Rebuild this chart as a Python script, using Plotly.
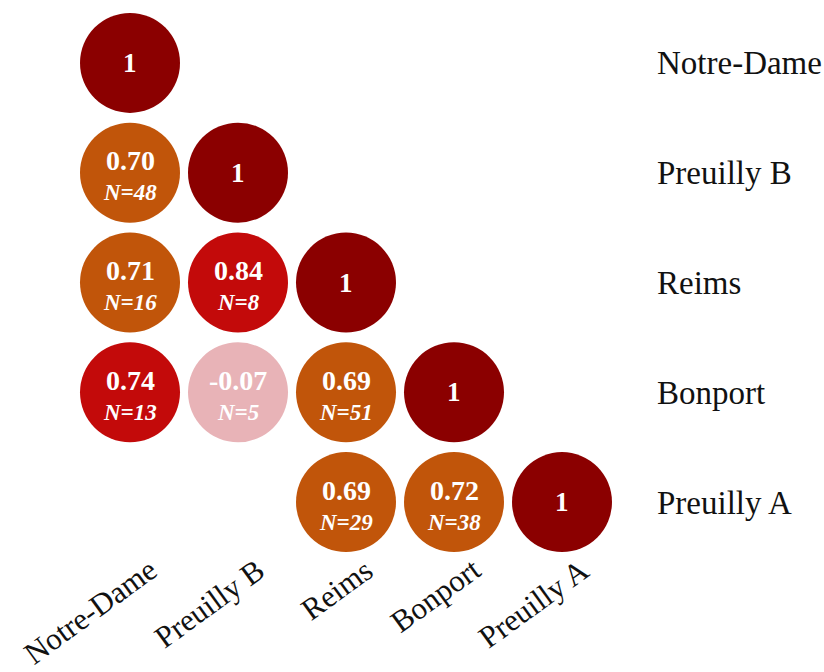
import plotly.graph_objects as go

# Sites compared (same order on both axes)
sites = ["Notre-Dame", "Preuilly B", "Reims", "Bonport", "Preuilly A"]

# Lower-triangle correlations: (row index, column index)
pair_rows = [0, 1, 1, 2, 2, 2, 3, 3, 3, 3, 4, 4, 4]
pair_cols = [0, 0, 1, 0, 1, 2, 0, 1, 2, 3, 2, 3, 4]
r_values = [1, 0.70, 1, 0.71, 0.84, 1, 0.74, -0.07, 0.69, 1, 0.69, 0.72, 1]
n_values = [None, 48, None, 16, 8, None, 13, 5, 51, None, 29, 38, None]


def circle_colour(r):
    if r >= 1:
        return "#8B0000"
    if r >= 0.73:
        return "#C30A0A"
    if r >= 0.5:
        return "#C1550A"
    return "#E8B3B7"


colours = [circle_colour(r) for r in r_values]

fig = go.Figure()
fig.add_trace(go.Scatter(
    x=pair_cols, y=pair_rows, mode="markers",
    marker=dict(size=100, color=colours, line=dict(width=0)),
    hoverinfo="skip", showlegend=False,
))

serif = "Liberation Serif, Times New Roman, serif"
annotations = []
for x, y, r, n in zip(pair_cols, pair_rows, r_values, n_values):
    if n is None:
        annotations.append(dict(
            x=x, y=y, xref="x", yref="y", text="<b>1</b>", showarrow=False,
            font=dict(family=serif, size=27, color="white"),
        ))
    else:
        annotations.append(dict(
            x=x, y=y, xref="x", yref="y", text=f"<b>{r:.2f}</b>",
            showarrow=False, yshift=12,
            font=dict(family=serif, size=28, color="white"),
        ))
        annotations.append(dict(
            x=x, y=y, xref="x", yref="y", text=f"<b><i>N={n}</i></b>",
            showarrow=False, yshift=-20,
            font=dict(family=serif, size=23, color="white"),
        ))

# Slanted column labels under the bottom row
for i, name in enumerate(sites):
    annotations.append(dict(
        x=i, y=0, xref="x", yref="paper", text=name, showarrow=False,
        textangle=-36, xanchor="right", yanchor="top", xshift=36, yshift=8,
        font=dict(family=serif, size=31, color="#111"),
    ))

fig.update_layout(
    width=824, height=672,
    margin=dict(l=76, r=208, t=8, b=115, autoexpand=False),
    paper_bgcolor="white", plot_bgcolor="white",
    annotations=annotations,
    xaxis=dict(
        range=[-0.5, 4.5], tickvals=list(range(5)), showticklabels=False,
        showgrid=False, zeroline=False, showline=False, ticks="",
        automargin=False,
    ),
    yaxis=dict(
        range=[4.5, -0.5], tickvals=list(range(5)), ticktext=sites,
        side="right", showgrid=False, zeroline=False, showline=False,
        tickfont=dict(family=serif, size=33, color="#111"),
        ticks="", ticklabelstandoff=40, automargin=False,
    ),
)

fig.write_html("out.html")
